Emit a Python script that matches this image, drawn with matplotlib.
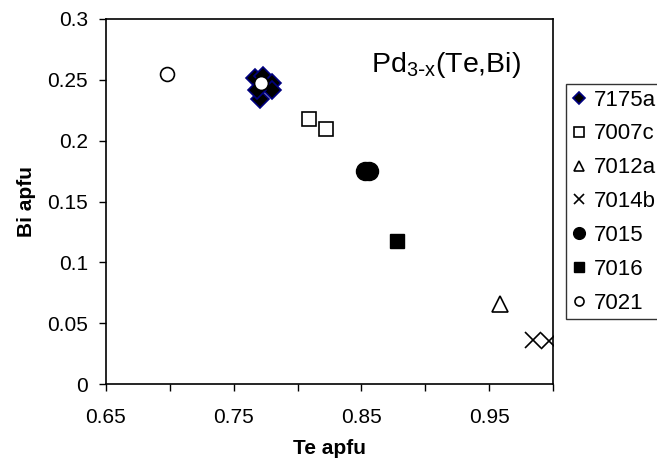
import matplotlib
matplotlib.use("Agg")
import matplotlib.pyplot as plt
from matplotlib.ticker import FixedLocator

plt.rcParams['font.family'] = ['Liberation Sans', 'DejaVu Sans']

# data
s7175a_x = [0.7664, 0.7727, 0.7797, 0.7797, 0.7703, 0.7680]
s7175a_y = [0.2515, 0.2531, 0.2474, 0.2416, 0.2342, 0.2416]
s7007c_x = [0.8086, 0.8219]
s7007c_y = [0.2178, 0.2096]
s7012a_x = [0.9584]
s7012a_y = [0.0657]
s7014b_x = [0.9844, 0.9969]
s7014b_y = [0.0362, 0.0352]
s7015_x = [0.8531, 0.8563]
s7015_y = [0.1750, 0.1750]
s7016_x = [0.8776]
s7016_y = [0.1178]
s7021_x = [0.6977, 0.7710]
s7021_y = [0.2548, 0.2474]

x_ticks = [0.65, 0.70, 0.75, 0.80, 0.85, 0.90, 0.95, 1.00]
x_ticklabels = ['0.65', '', '0.75', '', '0.85', '', '0.95', '']
y_ticks = [0, 0.05, 0.1, 0.15, 0.2, 0.25, 0.3]
y_ticklabels = ['0', '0.05', '0.1', '0.15', '0.2', '0.25', '0.3']

fig = plt.figure(figsize=(6.57, 4.63), dpi=100)
ax = fig.add_axes([106/657, 1-384/463, (553-106)/657, (384-19)/463])

ax.plot(s7175a_x, s7175a_y, ls='none', marker='D', ms=9, mfc='black', mec='#000080', mew=1.2, label='7175a')
ax.plot(s7007c_x, s7007c_y, ls='none', marker='s', ms=10, mfc='white', mec='black', mew=1.2, label='7007c')
ax.plot(s7012a_x, s7012a_y, ls='none', marker='^', ms=12, mfc='white', mec='black', mew=1.2, label='7012a')
ax.plot(s7014b_x, s7014b_y, ls='none', marker='x', ms=12, mec='black', mew=1.2, label='7014b')
ax.plot(s7015_x, s7015_y, ls='none', marker='o', ms=13, mfc='black', mec='black', label='7015')
ax.plot(s7016_x, s7016_y, ls='none', marker='s', ms=10.5, mfc='black', mec='black', label='7016')
ax.plot(s7021_x, s7021_y, ls='none', marker='o', ms=10, mfc='white', mec='black', mew=1.2, label='7021')

ax.set_xlim(0.65, 1.0)
ax.set_ylim(0, 0.3)
ax.xaxis.set_major_locator(FixedLocator(x_ticks))
ax.set_xticklabels(x_ticklabels)
ax.yaxis.set_major_locator(FixedLocator(y_ticks))
ax.set_yticklabels(y_ticklabels)
ax.tick_params(direction='out', length=5, width=1, labelsize=15)
ax.tick_params(axis='x', pad=12)
ax.tick_params(axis='y', pad=8)
for sp in ax.spines.values():
    sp.set_linewidth(1.2)

ax.set_xlabel('Te apfu', fontsize=15, fontweight='bold', labelpad=9)
ax.set_ylabel('Bi apfu', fontsize=15, fontweight='bold', labelpad=8)

ax.text(0.8578, 0.2567, r'Pd$_{\mathregular{3\text{-}x}}$(Te,Bi)', fontsize=20.5,
        ha='left', va='baseline')

leg = fig.legend(loc='upper left', bbox_to_anchor=(566/657, 1-84/463), fontsize=16,
                 frameon=True, fancybox=False, edgecolor='black', markerscale=0.65,
                 handlelength=0.7, handletextpad=0.3, labelspacing=0.58, borderpad=0.25,
                 borderaxespad=0)
leg.get_frame().set_linewidth(1.0)

fig.savefig('out.png', dpi=100)
